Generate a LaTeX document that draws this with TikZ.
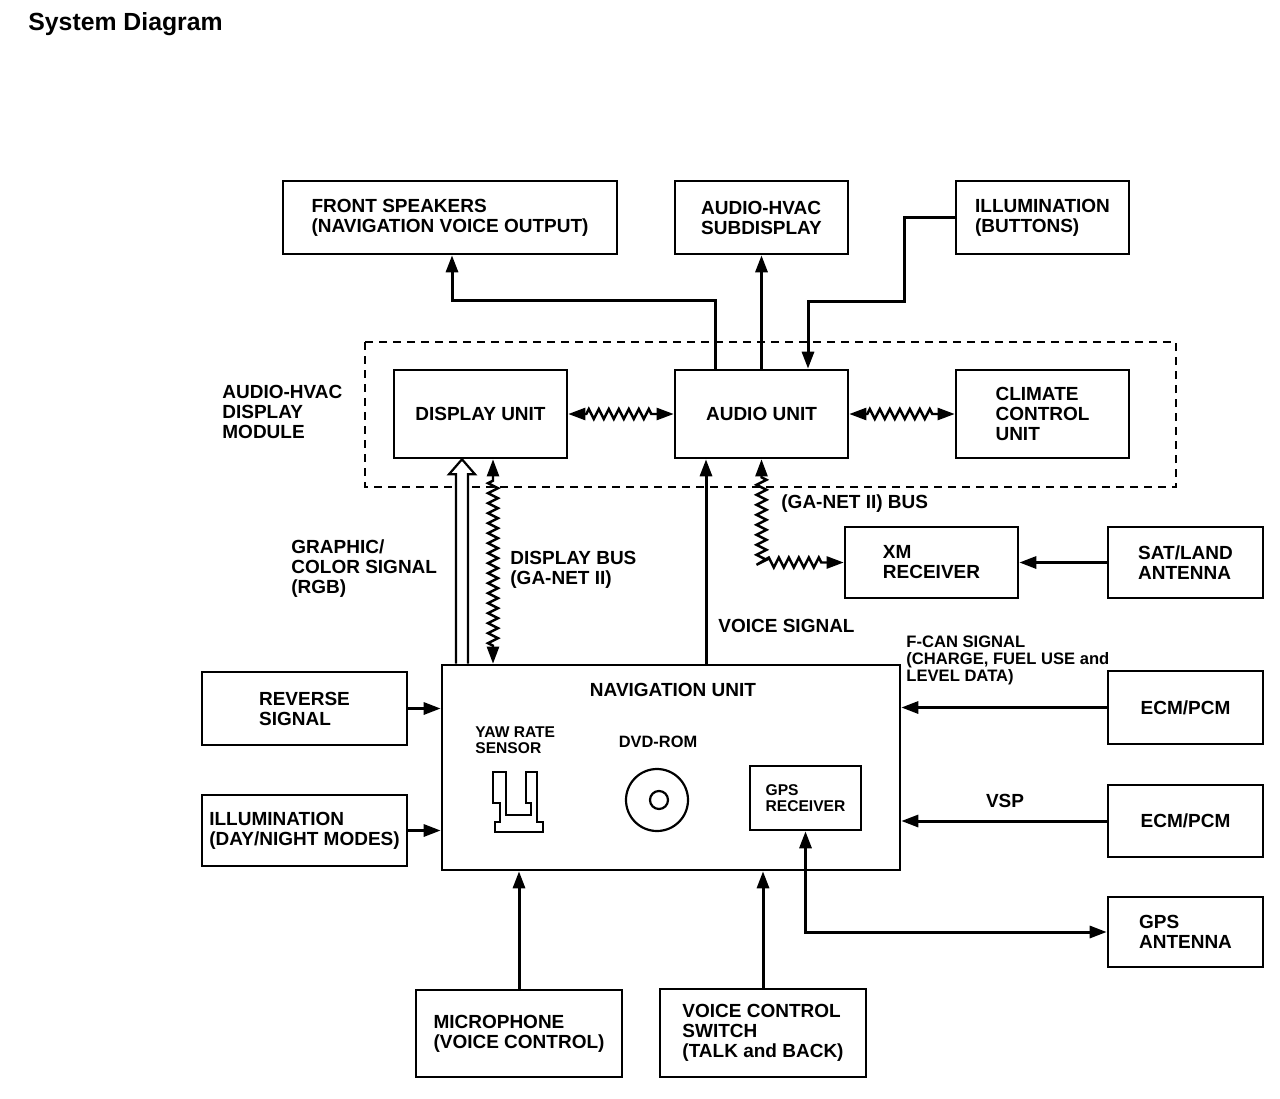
\documentclass[tikz,border=0pt]{standalone}
\usepackage{fontspec}
\setmainfont{Liberation Sans}
\usetikzlibrary{arrows.meta, decorations.pathmorphing, calc}

\newcommand{\boxfont}{\fontsize{9.5}{10}\selectfont\bfseries}
\newcommand{\smallfont}{\fontsize{7.8}{8}\selectfont\bfseries}
\newcommand{\canfont}{\fontsize{8.3}{8.5}\selectfont\bfseries}

\tikzset{
	blk/.style = {draw, line width = 1.3pt, align = left, font = \boxfont, minimum width = 86.5pt, minimum height = 36.5pt, inner sep = 1pt},
	lbl/.style = {align = left, font = \boxfont, inner sep = 0pt},
	arr/.style = {line width = 1.5pt, -{Triangle[length = 8.5pt, width = 6pt]}},
	arrs/.style = {line width = 1.5pt, {Triangle[length = 8.5pt, width = 6pt]}-{Triangle[length = 8.5pt, width = 6pt]}},
	bus/.style = {line width = 1.2pt, {Triangle[length = 8.5pt, width = 6pt]}-{Triangle[length = 8.5pt, width = 6pt]}, decorate, decoration = {zigzag, segment length = 5pt, amplitude = 2.5pt, pre length = 9pt, post length = 9pt}}
}

\begin{document}
\begin{tikzpicture}[x = 0.5pt, y = -0.5pt]

	\useasboundingbox (0, 0) rectangle (1280, 1098);

	% Title

	\node [lbl, anchor = west, font = \fontsize{12.4}{14}\selectfont\bfseries] (title) at (28, 24) {System Diagram};

	% Top row

	\node [blk, minimum width = 167pt] (fs) at (450, 217.5) {FRONT SPEAKERS\\(NAVIGATION VOICE OUTPUT)};
	\node [blk] (sub) at (761.5, 217.5) {AUDIO-HVAC\\SUBDISPLAY};
	\node [blk] (illb) at (1042.5, 217.5) {ILLUMINATION\\(BUTTONS)};

	% Audio-HVAC display module

	\draw [line width = 1pt, dash pattern = on 4pt off 3pt] (365, 342) rectangle (1176, 487);
	\node [blk, minimum height = 44pt] (disp) at (480.5, 414) {DISPLAY UNIT};
	\node [blk, minimum height = 44pt] (aud) at (761.5, 414) {AUDIO UNIT};
	\node [blk, minimum height = 44pt] (clim) at (1042.5, 414) {CLIMATE\\CONTROL\\UNIT};
	\node [lbl, anchor = west] (modlbl) at (222, 412) {AUDIO-HVAC\\DISPLAY\\MODULE};

	% Receiver row

	\node [blk, minimum height = 35.5pt] (xm) at (931.5, 562.5) {XM\\RECEIVER};
	\node [blk, minimum width = 77.5pt, minimum height = 35.5pt] (sat) at (1185.5, 562.5) {SAT/LAND\\ANTENNA};

	% Navigation unit and what is inside

	\node [blk, minimum width = 229pt, minimum height = 102.5pt] (nav) at (671, 767.5) {};
	\node [lbl] (navlbl) at (673, 690) {NAVIGATION UNIT};
	\node [lbl, anchor = west, font = \smallfont] (yawlbl) at (475, 740) {YAW RATE\\SENSOR};
	\node [lbl, font = \fontsize{8.2}{9}\selectfont\bfseries] (dvdlbl) at (658, 742) {DVD-ROM};
	\node [blk, minimum width = 55.5pt, minimum height = 32pt, font = \smallfont] (gps) at (805.5, 798) {GPS\\RECEIVER};

	\draw [line width = 1.1pt] (493, 772) -- (506, 772) -- (506, 815) -- (531, 815) -- (531, 803) -- (526, 803) -- (526, 772) -- (537, 772) -- (537, 822) -- (543, 822) -- (543, 832) -- (495, 832) -- (495, 822) -- (500, 822) -- (500, 803) -- (493, 803) -- cycle;

	\draw [line width = 1.1pt] (657, 800) circle [radius = 15.5pt];
	\draw [line width = 1.1pt] (659, 800) circle [radius = 4.5pt];

	% Left and right inputs

	\node [blk, minimum width = 102.5pt] (rev) at (304.5, 708.5) {REVERSE\\SIGNAL};
	\node [blk, minimum width = 102.5pt, minimum height = 35.5pt] (illd) at (304.5, 830.5) {ILLUMINATION\\(DAY/NIGHT MODES)};

	\node [blk, minimum width = 77.5pt] (ecma) at (1185.5, 707.5) {ECM/PCM};
	\node [blk, minimum width = 77.5pt, minimum height = 36pt] (ecmb) at (1185.5, 821) {ECM/PCM};
	\node [blk, minimum width = 77.5pt, minimum height = 35pt] (gpsa) at (1185.5, 932) {GPS\\ANTENNA};

	% Bottom row

	\node [blk, minimum width = 103pt, minimum height = 43.5pt] (mic) at (519, 1033.5) {MICROPHONE\\(VOICE CONTROL)};
	\node [blk, minimum width = 103pt, minimum height = 44pt] (vcs) at (763, 1033) {VOICE CONTROL\\SWITCH\\(TALK and BACK)};

	% Outputs of the audio unit

	\draw [arr] ([xshift = -23.25pt] aud.north) -- ++(0, 34pt) -| ([xshift = 1pt] fs.south);
	\draw [arr] (aud.north) -- (sub.south);
	\draw [arr] (illb.west) -- ++(-25pt, 0) -- ++(0, -42pt) -| ([xshift = 23.25pt] aud.north);

	% Buses

	\draw [bus] (disp) -- (aud);
	\draw [bus] (aud) -- (clim);

	\coordinate (rgb) at ([xshift = -9.25pt] disp.south);
	\coordinate (dbus) at ([xshift = 6.25pt] disp.south);
	\coordinate (voice) at ([xshift = -27.75pt] aud.south);

	\draw [bus] (dbus |- nav.north) -- (dbus);
	\draw [arr] (voice |- nav.north) -- (voice);
	\draw [bus] (aud.south) |- (xm.west);

	% Graphic signal, hollow arrow

	\draw [line width = 1.1pt, fill = white] ($(rgb |- nav.north) + (-6, 0)$) -- ($(rgb) + (-6, 15)$) -- ($(rgb) + (-13, 15)$) -- (rgb) -- ($(rgb) + (13, 15)$) -- ($(rgb) + (6, 15)$) -- ($(rgb |- nav.north) + (6, 0)$);

	% Inputs of the navigation unit

	\draw [arr] (sat) -- (xm);
	\draw [arr] (rev.east) -- (rev.east -| nav.west);
	\draw [arr] (illd.east) -- (illd.east -| nav.west);
	\draw [arr] (ecma.west) -- (ecma.west -| nav.east);
	\draw [arr] (ecmb.west) -- (ecmb.west -| nav.east);
	\draw [arr] (mic.north) -- (mic.north |- nav.south);
	\draw [arr] (vcs.north) -- (vcs.north |- nav.south);
	\draw [arrs] (gpsa.west) -| (gps.south);

	% Signal labels

	\node [lbl, anchor = west] (rgblbl) at (291, 569) {GRAPHIC/\\COLOR SIGNAL\\(RGB)};
	\node [lbl, anchor = west] (dbuslbl) at (510, 569.5) {DISPLAY BUS\\(GA-NET II)};
	\node [lbl, anchor = west] (voicelbl) at (718, 626) {VOICE SIGNAL};
	\node [lbl, anchor = west] (ganetlbl) at (781, 504) {(GA-NET II) BUS};
	\node [lbl, anchor = west, font = \canfont] (fcanlbl) at (906, 660) {F-CAN SIGNAL\\(CHARGE, FUEL USE and\\ LEVEL DATA)};
	\node [lbl] (vsplbl) at (1005, 801) {VSP};

\end{tikzpicture}
\end{document}
